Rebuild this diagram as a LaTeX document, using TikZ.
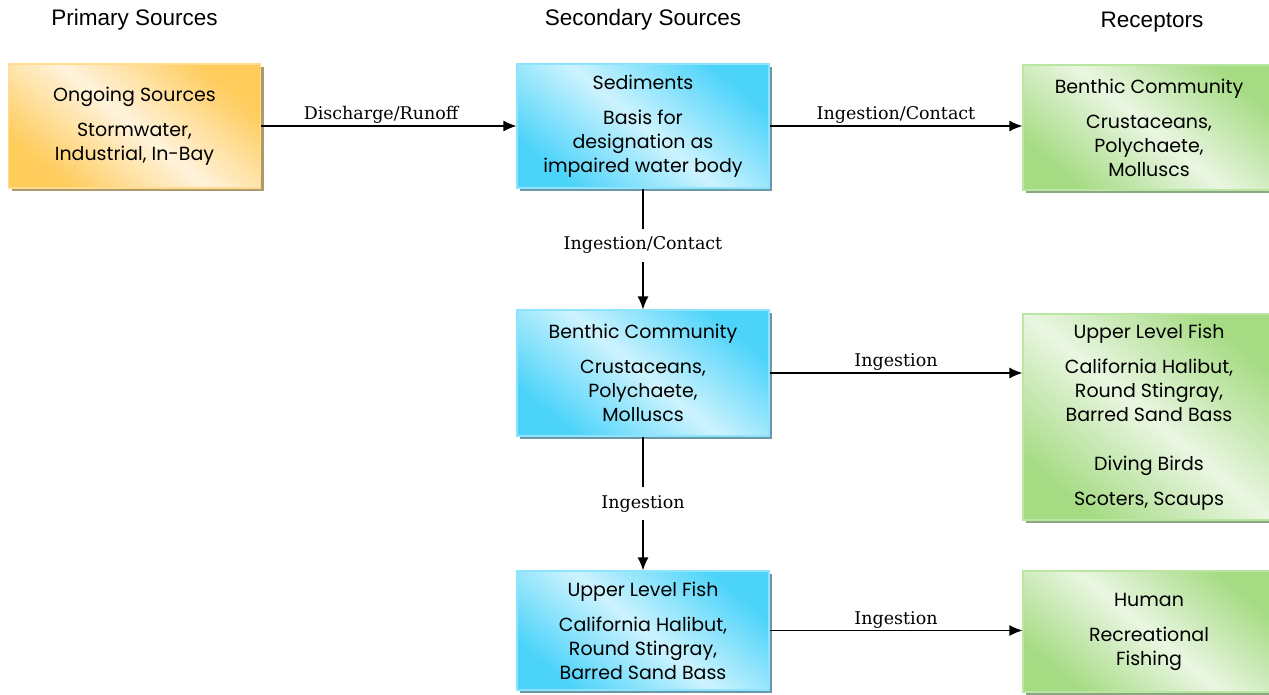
\documentclass[tikz,border=0pt]{standalone}
\usepackage{fontspec}
\setmainfont{DejaVu Serif}
\newfontfamily\boxfont{Poppins}
\newfontfamily\headfont{Liberation Sans}
\usetikzlibrary{arrows.meta}
\usetikzlibrary{shadows}
\usetikzlibrary{positioning}
\tikzset{>={Latex[width=11pt,length=13pt]}}

\definecolor{srcDark}{HTML}{FFCB5A}
\definecolor{srcLight}{HTML}{FFF3DC}
\definecolor{srcEdge}{HTML}{FFDC90}
\definecolor{srcShadow}{HTML}{B09A6A}
\definecolor{secDark}{HTML}{4BD3FA}
\definecolor{secLight}{HTML}{CDF3FE}
\definecolor{secEdge}{HTML}{8DE4FC}
\definecolor{secShadow}{HTML}{6A98A8}
\definecolor{recDark}{HTML}{A5DB83}
\definecolor{recLight}{HTML}{EAF6E2}
\definecolor{recEdge}{HTML}{B9E6A1}
\definecolor{recShadow}{HTML}{8CA582}

\tikzset{
  box/.style={line width=1.2pt, minimum width=252pt, align=center, inner sep=0pt,
    font=\boxfont\fontsize{19}{24}\selectfont},
  srcbox/.style={box, draw=srcEdge, top color=srcDark, bottom color=srcDark,
    middle color=srcLight, shading angle=-40,
    drop shadow={shadow xshift=3pt, shadow yshift=-3pt, fill=srcShadow, opacity=1}},
  secbox/.style={box, draw=secEdge, top color=secDark, bottom color=secDark,
    middle color=secLight, shading angle=-40,
    drop shadow={shadow xshift=3pt, shadow yshift=-3pt, fill=secShadow, opacity=1}},
  recbox/.style={box, draw=recEdge, top color=recDark, bottom color=recDark,
    middle color=recLight, shading angle=-40,
    drop shadow={shadow xshift=3pt, shadow yshift=-3pt, fill=recShadow, opacity=1}},
  header/.style={anchor=base, font=\headfont\fontsize{22.5}{26}\selectfont},
  conn/.style={->, line width=1.2pt},
  lbl/.style={font=\fontsize{17.5}{20}\selectfont, inner sep=2pt},
  cut/.style={lbl, fill=white, inner sep=8pt}
}

\begin{document}
\begin{tikzpicture}[x=1pt,y=-1pt]
  \useasboundingbox (0,0) rectangle (1269,694);
  % Draw column headers
  \node[header] (hprimary) at (134.5,25) {Primary Sources};
  \node[header] (hsecondary) at (643,25) {Secondary Sources};
  \node[header] (hreceptors) at (1152,27) {Receptors};
  % Draw source and receptor boxes
  \node[srcbox, minimum height=124pt] (ongoing) at (134.5,126)
    {Ongoing Sources\\[11pt]Stormwater,\\Industrial, In-Bay};
  \node[secbox, minimum height=124pt] (sediments) at (643,126)
    {Sediments\\[11pt]Basis for\\designation as\\impaired water body};
  \node[recbox, minimum height=125pt] (benthicR) at (1149,127.5)
    {Benthic Community\\[11pt]Crustaceans,\\Polychaete,\\Molluscs};
  \node[secbox, minimum height=126pt] (benthic) at (643,373)
    {Benthic Community\\[11pt]Crustaceans,\\Polychaete,\\Molluscs};
  \node[recbox, minimum height=206pt] (fishR) at (1149,417)
    {Upper Level Fish\\[11pt]California Halibut,\\Round Stingray,\\Barred Sand Bass\\[25pt]Diving Birds\\[11pt]Scoters, Scaups};
  \node[secbox, minimum height=119pt] (fish) at (643,630.5)
    {Upper Level Fish\\[11pt]California Halibut,\\Round Stingray,\\Barred Sand Bass};
  \node[recbox, minimum height=121pt] (human) at (1149,631.5)
    {Human\\[11pt]Recreational\\Fishing};
  % Draw exposure pathways
  \draw[conn] (ongoing.east) -- (sediments.west)
    node[pos=0.47, above, lbl] {Discharge/Runoff};
  \draw[conn] (sediments.east) -- (sediments.east -| benthicR.west)
    node[midway, above, lbl] {Ingestion/Contact};
  \draw[conn] (sediments.south) -- (benthic.north)
    node[pos=0.47, cut] {Ingestion/Contact};
  \draw[conn] (benthic.east) -- (benthic.east -| fishR.west)
    node[midway, above, lbl] {Ingestion};
  \draw[conn] (benthic.south) -- (fish.north)
    node[midway, cut] {Ingestion};
  \draw[conn] (fish.east) -- (fish.east -| human.west)
    node[midway, above, lbl] {Ingestion};
\end{tikzpicture}
\end{document}
